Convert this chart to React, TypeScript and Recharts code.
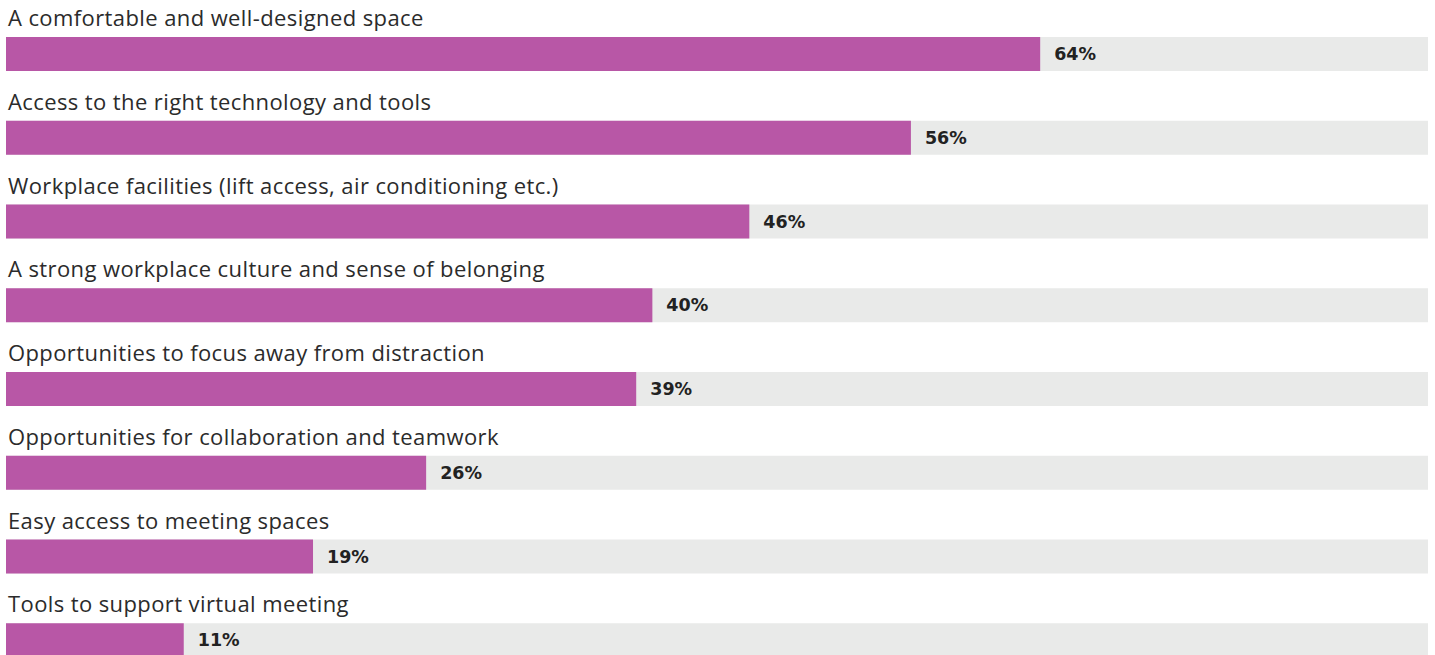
import { BarChart, Bar, XAxis, YAxis, LabelList } from 'recharts'

const categories = [
  'A comfortable and well-designed space',
  'Access to the right technology and tools',
  'Workplace facilities (lift access, air conditioning etc.)',
  'A strong workplace culture and sense of belonging',
  'Opportunities to focus away from distraction',
  'Opportunities for collaboration and teamwork',
  'Easy access to meeting spaces',
  'Tools to support virtual meeting',
]

const shares = [64, 56, 46, 40, 39, 26, 19, 11]

const data = categories.map((name, i) => ({ name, value: shares[i] }))

const FONT = '"Open Sans", sans-serif'

// eslint-disable-next-line @typescript-eslint/no-explicit-any
function CategoryLabel(props: any) {
  const { x, y, value } = props
  return (
    <text
      x={Number(x) + 2}
      y={Number(y) - 11}
      fill="#2b2b2b"
      fontSize={22}
      letterSpacing={0.4}
      fontFamily={FONT}
    >
      {value}
    </text>
  )
}

export default function App() {
  return (
    <div style={{ position: 'absolute', left: 0, top: 0, width: 1435, height: 655, overflow: 'hidden', background: '#fff' }}>
      <BarChart
        width={1435}
        height={682}
        data={data}
        layout="vertical"
        margin={{ top: 12, right: 7, left: 6, bottom: 0 }}
      >
        <XAxis type="number" domain={[0, 88]} hide />
        <YAxis type="category" dataKey="name" hide />
        <Bar
          dataKey="value"
          fill="#b857a6"
          barSize={34}
          background={{ fill: '#e9eae9' }}
          isAnimationActive={false}
        >
          <LabelList dataKey="name" content={(p) => <CategoryLabel {...p} />} />
          <LabelList
            dataKey="value"
            position="right"
            offset={14}
            formatter={(v: any) => `${v}%`}
            fill="#222"
            fontSize={17.5}
            fontWeight={700}
            fontFamily='"DejaVu Sans", sans-serif'
          />
        </Bar>
      </BarChart>
    </div>
  )
}
